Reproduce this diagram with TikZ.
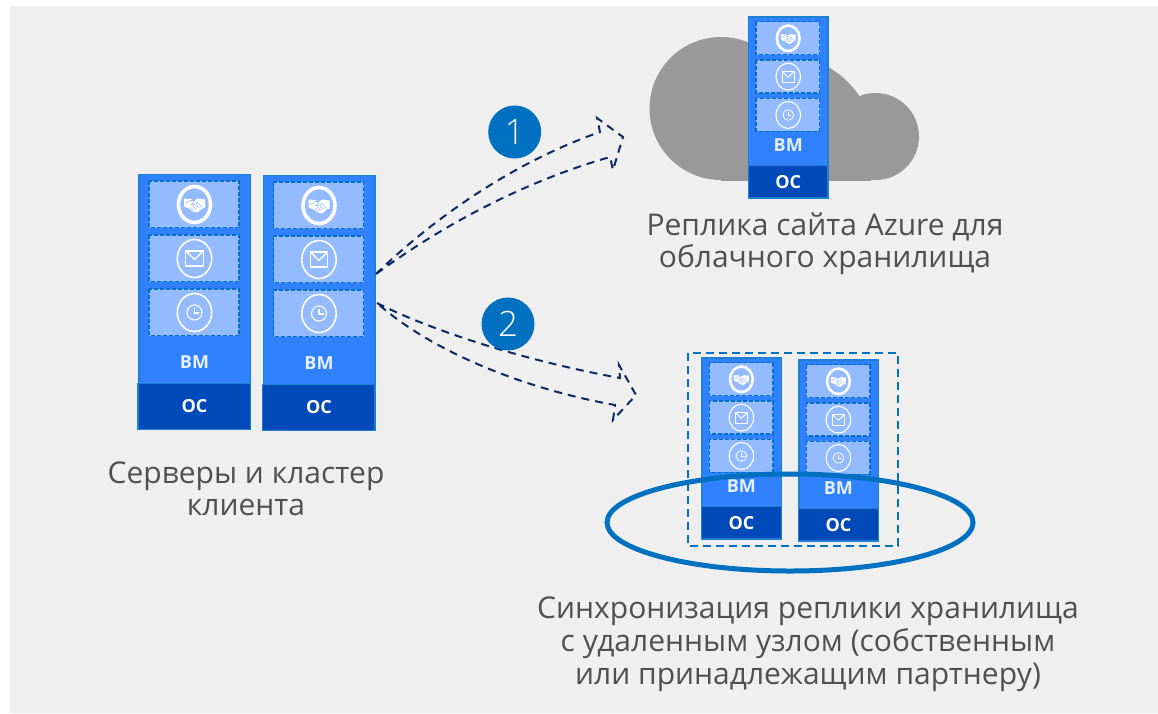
\documentclass[tikz,border=0pt]{standalone}
\usepackage{fontspec}
\setmainfont{Open Sans}
\newfontfamily\numf{Open Sans Light}
\usetikzlibrary{calc}
\definecolor{bggray}{HTML}{EFEFEF}
\definecolor{srvblue}{HTML}{3081FF}
\definecolor{srvedge}{HTML}{1F7FD0}
\definecolor{osblue}{HTML}{0049B8}
\definecolor{slot}{HTML}{94BBFF}
\definecolor{msblue}{HTML}{0070C0}
\definecolor{navy}{HTML}{0B2A66}
\definecolor{cloudgray}{HTML}{999999}
\definecolor{txt}{HTML}{505050}
\tikzset{
  bm/.style={fill=srvblue,draw=srvedge,line width=1.2pt},
  os/.style={fill=osblue,draw=srvedge,line width=1.2pt},
  slotbox/.style={fill=slot,draw=msblue,line width=1.2pt,dash pattern=on 4pt off 2pt},
  ring/.style={draw=white,line width=1.5pt},
  flow/.style={draw=navy,line width=2pt,dash pattern=on 8pt off 6pt},
  captxt/.style={font=\fontsize{30}{32}\selectfont,text=txt,align=center,inner sep=0pt},
  lab/.style={inner sep=0pt},
  badge/.style={circle,fill=msblue,minimum size=53pt,inner sep=0pt,text=white,font=\numf\fontsize{35}{35}\selectfont},
}
% #1 name prefix, #2 x, #3 y of BM top-left, #4 scale, #5 y of the BM label
\newcommand{\serverstack}[5]{%
\begin{scope}[shift={(#2,#3)},scale=#4]
  \path[bm] (0,0) rectangle (111.5,209);
  \path[os] (-1,209) rectangle (111.5,255);
  \foreach \yy in {6.5,60.5,114.5}{
    \path[slotbox] (10,\yy) rectangle (100,\yy+46.5);}
  % handshake
  \draw[draw=white,line width=3.6*#4 pt] (55.5,30) ellipse [x radius=16,y radius=18];
  \begin{scope}[shift={(55.5,30)}]
    \fill[white] (-10.5,-6) -- (-4,-5.5) -- (-0.5,-4) -- (3.5,-6) -- (10.5,-5) -- (10.5,3) -- (8,4) -- (3,8) -- (-1,7) -- (-5.5,4) -- (-10.5,2) -- cycle;
    \draw[slot,line width=0.6*#4 pt] (-9,-1) -- (-4,-4) -- (0,-4) -- (-3,0) -- (0,0) -- (3,-2) -- (8,3);
    \draw[slot,line width=0.6*#4 pt] (-4,3) -- (-1,5.5) (-1.5,1.5) -- (2,5) (1,0.5) -- (4.5,3.5);
  \end{scope}
  \draw[ring,line width=1.6*#4 pt] (55.5,84) ellipse [x radius=17.2,y radius=19];
  \draw[draw=white,line width=1.3*#4 pt,line join=round] (46.8,76.5) rectangle (64.2,91.5);
  \draw[draw=white,line width=1.3*#4 pt,line join=round] (46.8,76.5) -- (55.5,85) -- (64.2,76.5);
  \draw[ring,line width=1.6*#4 pt] (55.5,138) ellipse [x radius=17.2,y radius=19];
  \draw[draw=white,line width=1.1*#4 pt] (55.5,138) circle (7.5);
  \draw[draw=white,line width=1.1*#4 pt] (55.5,133.5) -- (55.5,138.5) -- (60,138.5);
  \node[lab,text=white!88!srvblue,font=\bfseries\fontsize{18}{18}\selectfont] (#1bm) at (55.5,#5) {ВМ};
  \node[lab,text=white,font=\bfseries\fontsize{18}{18}\selectfont] (#1os) at (55.5,232) {ОС};
\end{scope}}
\begin{document}
\begin{tikzpicture}[x=1pt,y=-1pt]
\useasboundingbox (0,0) rectangle (1158,713);
\fill[white] (0,0) rectangle (1158,713);
\fill[bggray] (10,6) rectangle (1158,713);
% cloud
\fill[cloudgray] (721,108.5) circle (71.5);
\fill[cloudgray] (875.5,136.5) circle (43.5);
\begin{scope}
  \clip (721,0) rectangle (876,180);
  \fill[cloudgray] (780,150) circle (96);
  \fill[cloudgray] (721,120) rectangle (876,180);
\end{scope}
% servers
\serverstack{a}{139}{174.5}{1}{188}
\serverstack{b}{263.5}{175.5}{1}{188}
\serverstack{c}{748.8}{17}{0.71}{180}
\serverstack{d}{702}{358}{0.71}{180}
\serverstack{e}{799}{360}{0.71}{180}
% flow arrows
\coordinate (f1) at (376,274);
\coordinate (f1u) at (600,132);
\coordinate (f1h) at (597,118);
\coordinate (f1t) at (623,137);
\coordinate (f1b) at (613,170);
\coordinate (f1l) at (610,157);
\coordinate (f2) at (377,303);
\coordinate (f2u) at (620,378);
\coordinate (f2h) at (619,365);
\coordinate (f2t) at (636,395);
\coordinate (f2b) at (613,420);
\coordinate (f2l) at (615,405);
\draw[flow] (f1) .. controls (440,212) and (520,160) .. (f1u) -- (f1h) -- (f1t) -- (f1b) -- (f1l) .. controls (530,180) and (450,220) .. (f1);
\draw[flow] (f2) .. controls (420,325) and (510,358) .. (f2u) -- (f2h) -- (f2t) -- (f2b) -- (f2l) .. controls (520,388) and (430,350) .. (f2);
\node[badge] (n1) at (514.7,132) {1};
\node[badge] (n2) at (508,324) {2};
% group
\draw[msblue,line width=2pt,dash pattern=on 8pt off 5pt] (688,353) rectangle (898,546);
\draw[msblue,line width=5pt] (790,522.5) ellipse [x radius=183,y radius=48.5];
% captions
\node[captxt] (t1) at (246,489) {Серверы и кластер\\клиента};
\node[captxt] (t2) at (825,244) {Реплика сайта Azure для\\облачного хранилища};
\node[captxt,font=\fontsize{30}{33}\selectfont] (t3) at (808,644) {Синхронизация реплики хранилища\\с удаленным узлом (собственным\\или принадлежащим партнеру)};
\end{tikzpicture}
\end{document}
